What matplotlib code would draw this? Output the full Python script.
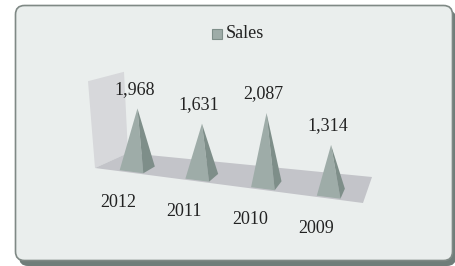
import matplotlib.pyplot as plt
from matplotlib.patches import FancyBboxPatch, Polygon, Rectangle

years = ["2012", "2011", "2010", "2009"]
sales = [1968, 1631, 2087, 1314]
value_labels = ["1,968", "1,631", "2,087", "1,314"]

plt.rcParams['font.family'] = ['Liberation Serif', 'DejaVu Serif']

U_MIN, U_MAX = -0.53, 3.53


def proj(u, d, h):
    # fake perspective: u along the category axis, d depth (0 front, 1 back), h value
    t = (u - U_MIN) / (U_MAX - U_MIN)
    xf, yf = 95 + 268 * t, 168 + 35 * t
    xb, yb = 128 + 244 * t, 153 + 24 * t
    k = 0.0295 + 0.0075 * t
    return xf + (xb - xf) * d, yf + (yb - yf) * d - h * k


fig = plt.figure(figsize=(4.56, 2.66), dpi=100)
ax = fig.add_axes([0, 0, 1, 1])
ax.set_xlim(0, 456)
ax.set_ylim(266, 0)
ax.axis('off')

# panel with shadow
ax.add_patch(FancyBboxPatch((19, 10), 437, 256, boxstyle="round,pad=0,rounding_size=9",
                            fc='#6f7d79', ec='none'))
ax.add_patch(FancyBboxPatch((15.5, 5.5), 437, 255, boxstyle="round,pad=0,rounding_size=9",
                            fc='#eaeeed', ec='#7f8985', lw=1.2))

# back wall and floor
wall_h = 2800
p0 = proj(U_MIN, 0, 0)
p1 = proj(U_MIN, 1, 0)
ax.add_patch(Polygon([p0, p1, (p1[0] - 4, p1[1] - wall_h * 0.029),
                      (p0[0] - 7, p0[1] - wall_h * 0.031)],
                     closed=True, fc='#d7d8db', ec='none'))
ax.add_patch(Polygon([proj(U_MIN, 0, 0), proj(U_MAX, 0, 0), proj(U_MAX, 1, 0), proj(U_MIN, 1, 0)],
                     closed=True, fc='#c3c4c9', ec='none'))

w = 0.18
d0, d1 = 0.05, 0.45
for i, (yr, v, lab) in enumerate(zip(years, sales, value_labels)):
    apex = proj(i, (d0 + d1) / 2, v)
    fl = proj(i - w, d0, 0)
    fr = proj(i + w, d0, 0)
    br = proj(i + w, d1, 0)
    ax.add_patch(Polygon([fl, fr, apex], closed=True, fc='#9eaca8', ec='none'))
    ax.add_patch(Polygon([fr, br, apex], closed=True, fc='#7e8e89', ec='none'))
    ax.annotate(lab, apex, xytext=(-3, 19), textcoords='offset pixels',
                ha='center', va='center', fontsize=13, color='#222222')
    base = proj(i, 0, 0)
    ax.annotate(yr, base, xytext=(-12, -30), textcoords='offset pixels',
                ha='center', va='center', fontsize=13, color='#222222')

# legend
ax.add_patch(Rectangle((212.5, 28.5), 10, 10, fc='#9eaca8', ec='#7e8e89', lw=0.8))
ax.text(226, 33.5, "Sales", ha='left', va='center', fontsize=13, color='#222222')

fig.savefig("out.png", dpi=100)
